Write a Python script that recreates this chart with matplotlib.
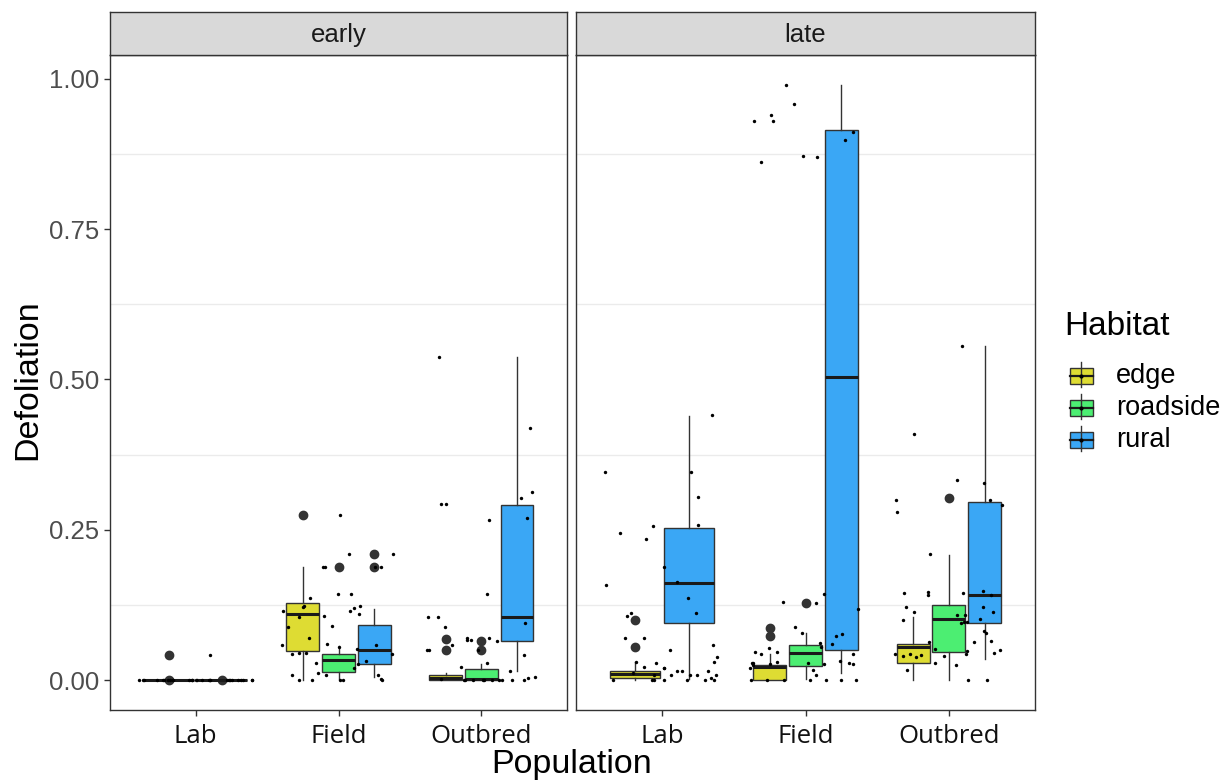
import numpy as np
import matplotlib
matplotlib.use("Agg")
import matplotlib.pyplot as plt
from matplotlib.patches import Rectangle

plt.rcParams['font.family'] = ['Liberation Sans', 'DejaVu Sans']

periods = ["early", "late"]
populations = ["Lab", "Field", "Outbred"]
habitats = ["edge", "roadside", "rural"]
habitat_colors = ["#DEDC33", "#4CEE72", "#3AA7F5"]

# box stats: [whisker low, q1, median, q3, whisker high]
early_lab_edge_box = [0.0, 0.0, 0.0, 0.0, 0.0]
early_lab_edge_out = [0.0, 0.042]
early_lab_rural_box = [0.0, 0.0, 0.0, 0.0, 0.0]
early_lab_rural_out = [0.0]
early_field_edge_box = [0.0, 0.049, 0.11, 0.128, 0.188]
early_field_edge_out = [0.275]
early_field_roadside_box = [0.002, 0.013, 0.033, 0.043, 0.057]
early_field_roadside_out = [0.189]
early_field_rural_box = [0.005, 0.027, 0.05, 0.092, 0.119]
early_field_rural_out = [0.189, 0.21]
early_outbred_edge_box = [0.0, 0.001, 0.003, 0.009, 0.012]
early_outbred_edge_out = [0.05, 0.069]
early_outbred_roadside_box = [0.0, 0.001, 0.002, 0.019, 0.027]
early_outbred_roadside_out = [0.05, 0.066]
early_outbred_rural_box = [0.015, 0.066, 0.105, 0.292, 0.538]
early_outbred_rural_out = []

late_lab_edge_box = [0.0, 0.004, 0.011, 0.016, 0.03]
late_lab_edge_out = [0.056, 0.1]
late_lab_rural_box = [0.002, 0.0945, 0.161, 0.253, 0.44]
late_lab_rural_out = []
late_field_edge_box = [0.0, 0.001, 0.022, 0.0245, 0.043]
late_field_edge_out = [0.073, 0.087]
late_field_roadside_box = [0.002, 0.023, 0.046, 0.058, 0.078]
late_field_roadside_out = [0.128]
late_field_rural_box = [0.012, 0.051, 0.504, 0.914, 0.989]
late_field_rural_out = []
late_outbred_edge_box = [0.001, 0.029, 0.0555, 0.0605, 0.105]
late_outbred_edge_out = []
late_outbred_roadside_box = [0.001, 0.0467, 0.101, 0.125, 0.208]
late_outbred_roadside_out = [0.303]
late_outbred_rural_box = [0.0345, 0.0945, 0.141, 0.297, 0.556]
late_outbred_rural_out = []

# raw (jittered) observations per period / population
early_lab_points = [0.0] * 28 + [0.042]
early_field_points = [0.275, 0.144, 0.137, 0.115, 0.122, 0.124, 0.124, 0.107, 0.058, 0.058,
                      0.046, 0.0, 0.0, 0.0, 0.009, 0.02, 0.032, 0.009, 0.0, 0.055, 0.189,
                      0.189, 0.115, 0.088, 0.009, 0.012, 0.0, 0.189, 0.189, 0.21, 0.21,
                      0.144, 0.12, 0.11, 0.105, 0.09, 0.07, 0.06, 0.043, 0.043, 0.046,
                      0.027, 0.028, 0.002, 0.052]
early_outbred_points = [0.537, 0.303, 0.313, 0.27, 0.267, 0.293, 0.293, 0.42, 0.144, 0.088,
                        0.095, 0.065, 0.07, 0.07, 0.067, 0.058, 0.05, 0.042, 0.05, 0.029,
                        0.022, 0.015, 0.05, 0.067, 0.105, 0.105, 0.005, 0.0, 0.0, 0.0, 0.0,
                        0.0, 0.0, 0.0, 0.0, 0.0, 0.0, 0.003, 0.002]
late_lab_points = [0.441, 0.347, 0.347, 0.305, 0.245, 0.257, 0.258, 0.158, 0.163, 0.112,
                   0.189, 0.136, 0.112, 0.106, 0.234, 0.07, 0.07, 0.058, 0.05, 0.022, 0.03,
                   0.03, 0.028, 0.039, 0.02, 0.02, 0.015, 0.009, 0.009, 0.009, 0.0, 0.0,
                   0.003, 0.0, 0.0, 0.0, 0.0, 0.012, 0.009, 0.015, 0.0, 0.015, 0.009]
late_field_points = [0.99, 0.958, 0.939, 0.93, 0.93, 0.911, 0.898, 0.862, 0.87, 0.872, 0.129,
                     0.144, 0.13, 0.118, 0.079, 0.062, 0.056, 0.053, 0.047, 0.089, 0.073,
                     0.077, 0.06, 0.043, 0.043, 0.032, 0.029, 0.029, 0.027, 0.029, 0.029,
                     0.02, 0.047, 0.03, 0.027, 0.017, 0.025, 0.009, 0.0, 0.0, 0.0, 0.0, 0.0,
                     0.0, 0.0, 0.027]
late_outbred_points = [0.556, 0.41, 0.333, 0.3, 0.328, 0.292, 0.3, 0.28, 0.21, 0.147, 0.145,
                       0.145, 0.148, 0.141, 0.141, 0.122, 0.122, 0.101, 0.113, 0.113, 0.108,
                       0.108, 0.095, 0.1, 0.097, 0.097, 0.079, 0.082, 0.063, 0.063, 0.065,
                       0.045, 0.043, 0.043, 0.043, 0.038, 0.026, 0.05, 0.052, 0.042, 0.04,
                       0.048, 0.04, 0.028, 0.017, 0.0, 0.0]

y_ticks = [0.0, 0.25, 0.5, 0.75, 1.0]
y_tick_labels = ["0.00", "0.25", "0.50", "0.75", "1.00"]

g = globals()
DPI = 100
fig = plt.figure(figsize=(12.25, 7.82), dpi=DPI)
W, H = 1225, 782

def fx(px):
    return px / W

def fy(py):
    return 1 - py / H

panel_px = [(110, 567), (576, 1035)]
top_px, bot_px, strip_top = 55, 710, 12
grey20 = "#333333"
rng = np.random.default_rng(7)

for pi, period in enumerate(periods):
    x0, x1 = panel_px[pi]
    ax = fig.add_axes([fx(x0), fy(bot_px), fx(x1 - x0), fy(top_px) - fy(bot_px)])
    ax.set_xlim(0.4, 3.6)
    ax.set_ylim(-0.0495, 1.0395)
    ax.set_yticks(y_ticks)
    ax.set_yticks([0.125, 0.375, 0.625, 0.875], minor=True)
    ax.grid(True, which="minor", axis="y", color="#EBEBEB", linewidth=1.0)
    ax.set_axisbelow(True)
    for s in ax.spines.values():
        s.set_color(grey20)
        s.set_linewidth(1.0)
    ax.tick_params(axis="both", which="major", color=grey20, length=4, width=1, pad=4)
    ax.tick_params(axis="x", which="major", pad=6)
    ax.tick_params(axis="y", which="minor", length=0)
    ax.set_xticks([1, 2, 3])
    ax.set_xticklabels(populations, fontsize=18.5, color="#111111",
                       family=["Open Sans", "DejaVu Sans"])
    if pi == 0:
        ax.set_yticklabels(y_tick_labels, fontsize=18.5, color="#4D4D4D")
    else:
        ax.tick_params(axis="y", which="both", length=0, labelleft=False)

    for ci, pop in enumerate(populations):
        present = [h for h in habitats if (period + "_" + pop.lower() + "_" + h + "_box") in g]
        n = len(present)
        slot = 0.75 / n
        for k, h in enumerate(present):
            box = g[period + "_" + pop.lower() + "_" + h + "_box"]
            out = g[period + "_" + pop.lower() + "_" + h + "_out"]
            pos = (ci + 1) - 0.375 + slot * (k + 0.5)
            stats = [dict(whislo=box[0], q1=box[1], med=box[2], q3=box[3], whishi=box[4],
                          fliers=np.array(out))]
            col = habitat_colors[habitats.index(h)]
            ax.bxp(stats, positions=[pos], widths=slot * 0.92, patch_artist=True,
                   showcaps=False, manage_ticks=False,
                   boxprops=dict(facecolor=col, edgecolor=grey20, linewidth=1.0),
                   medianprops=dict(color="#1A1A1A", linewidth=2.2),
                   whiskerprops=dict(color=grey20, linewidth=1.0),
                   flierprops=dict(marker="o", markersize=6, markerfacecolor=grey20,
                                   markeredgecolor=grey20), zorder=2)
        pts = g[period + "_" + pop.lower() + "_points"]
        xs = (ci + 1) + rng.uniform(-0.4, 0.4, len(pts))
        ax.scatter(xs, pts, s=6, color="black", zorder=3, linewidths=0)

    # strip
    sax = fig.add_axes([fx(x0), fy(top_px), fx(x1 - x0), fy(strip_top) - fy(top_px)])
    sax.set_facecolor("#D9D9D9")
    sax.set_xticks([])
    sax.set_yticks([])
    for s in sax.spines.values():
        s.set_color(grey20)
        s.set_linewidth(1.0)
    sax.text(0.5, 0.47, period, ha="center", va="center", fontsize=18.5, color="#1A1A1A",
             transform=sax.transAxes)

fig.text(fx(572), fy(764), "Population", ha="center", va="center", fontsize=24.5)
fig.text(fx(28), fy(380), "Defoliation", ha="center", va="center", fontsize=24.5, rotation=90)

# legend
lax = fig.add_axes([fx(1060), fy(470), fx(165), fy(300) - fy(470)])
lax.set_xlim(1060, 1225)
lax.set_ylim(470, 300)
lax.axis("off")
lax.text(1064, 327, "Habitat", ha="left", va="center", fontsize=24)
for k, h in enumerate(habitats):
    cy = 376 + 32 * k
    lax.plot([1081, 1081], [cy - 14, cy + 11], color=grey20, linewidth=1.0)
    lax.add_patch(Rectangle((1070, cy - 8), 23, 16, facecolor=habitat_colors[k],
                            edgecolor=grey20, linewidth=1.0))
    lax.plot([1070, 1093], [cy, cy], color="#1A1A1A", linewidth=1.6)
    lax.plot([1081], [cy], marker="o", markersize=2, color="black")
    lax.text(1116, cy, h, ha="left", va="center", fontsize=19.5)

fig.savefig("out.png", dpi=DPI)
